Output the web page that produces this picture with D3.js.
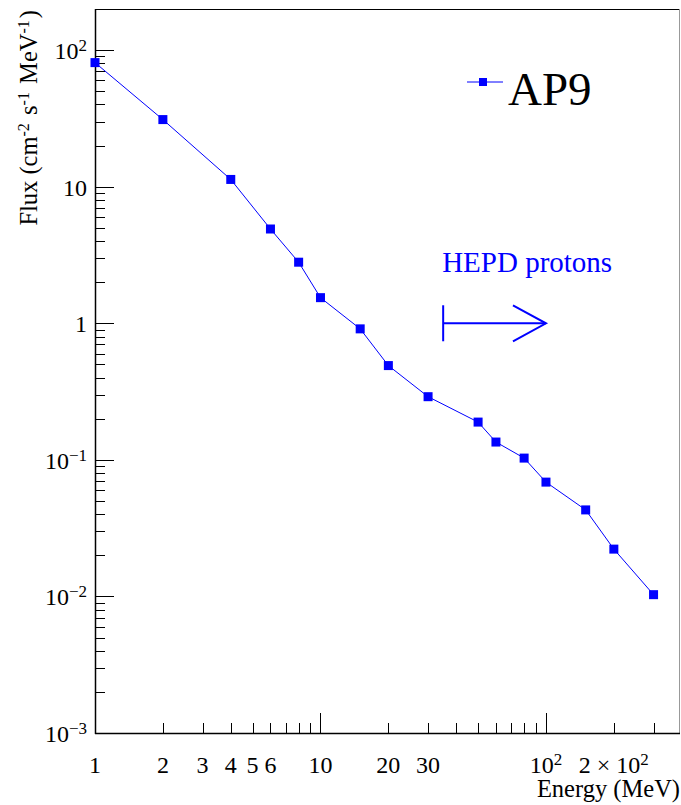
<!DOCTYPE html>
<html>
<head>
<meta charset="utf-8">
<script src="https://cdn.jsdelivr.net/npm/d3@7"></script>
<style>
  body { margin: 0; background: #fff; }
</style>
</head>
<body>
<div id="chart"></div>
<script>
// AP9 proton flux
var energy = [1, 2, 4, 6, 8, 10, 15, 20, 30, 50, 60, 80, 100, 150, 200, 300];
var flux = [81, 31, 11.3, 4.9, 2.8, 1.54, 0.91, 0.49, 0.29, 0.189, 0.135, 0.103, 0.0687, 0.043, 0.0222, 0.0103];

var xTickLabels = [[1, "1"], [2, "2"], [3, "3"], [4, "4"], [5, "5"], [6, "6"], [10, "10"],
                   [20, "20"], [30, "30"], [100, "10^2"], [200, "2 \u00d7 10^2"]];
var yDecades = [-3, -2, -1, 0, 1, 2];

var hepdStart = 35, hepdEnd = 100, hepdFlux = 1;

var width = 681, height = 805;
var margin = { top: 9, left: 95, right: 1, bottom: 72 };
var serif = "'Liberation Serif', 'Times New Roman', Times, 'DejaVu Serif', serif";

var svg = d3.select("#chart").append("svg")
            .attr("width", width)
            .attr("height", height)
            .attr("font-family", serif)
            .style("font-family", serif);

var x = d3.scaleLog()
          .domain([1, 393])
          .range([margin.left, width - margin.right]);

var y = d3.scaleLog()
          .domain([1e-3, 200])
          .range([height - margin.bottom, margin.top]);

var x0 = margin.left, x1 = width - margin.right,
    y0 = height - margin.bottom, y1 = margin.top;

// frame
svg.append("line").attr("x1", x0).attr("x2", x1).attr("y1", y1 + 0.5).attr("y2", y1 + 0.5)
   .attr("stroke", "#000");
svg.append("line").attr("x1", x1 - 0.5).attr("x2", x1 - 0.5).attr("y1", y1).attr("y2", y0)
   .attr("stroke", "#999");
svg.append("line").attr("x1", x0 + 0.5).attr("x2", x0 + 0.5).attr("y1", y1).attr("y2", y0 + 1)
   .attr("stroke", "#000").attr("stroke-width", 1.5);
svg.append("line").attr("x1", x0).attr("x2", x1).attr("y1", y0 + 0.5).attr("y2", y0 + 0.5)
   .attr("stroke", "#000").attr("stroke-width", 1.5);

// x ticks (pointing up into the frame)
var xMinor = [];
[1, 10, 100].forEach(d => {
  for (var k = 1; k <= 9; k++) {
    var v = d * k;
    if (v > 1 && v <= x.domain()[1]) xMinor.push(v);
  }
});
svg.append("g").selectAll("line")
   .data(xMinor)
   .enter().append("line")
   .attr("x1", d => Math.round(x(d)) + 0.5).attr("x2", d => Math.round(x(d)) + 0.5)
   .attr("y1", y0)
   .attr("y2", d => (d === 10 || d === 100) ? y0 - 20 : y0 - 10)
   .attr("stroke", "#000");

// y ticks (pointing right into the frame)
var yMinor = [];
yDecades.forEach(e => {
  for (var k = 1; k <= 9; k++) {
    var v = k * Math.pow(10, e);
    if (v > y.domain()[0] && v <= y.domain()[1]) yMinor.push(v);
  }
});
svg.append("g").selectAll("line")
   .data(yMinor)
   .enter().append("line")
   .attr("y1", d => Math.round(y(d)) + 0.5).attr("y2", d => Math.round(y(d)) + 0.5)
   .attr("x1", x0)
   .attr("x2", d => Math.abs(Math.log10(d) - Math.round(Math.log10(d))) < 1e-9 ? x0 + 19 : x0 + 10)
   .attr("stroke", "#000");

function powerLabel(sel, base, exp) {
  sel.append("tspan").text(base);
  sel.append("tspan").attr("dy", -8).attr("font-size", 17).text(exp);
}

// x tick labels
xTickLabels.forEach(t => {
  var txt = svg.append("text")
    .attr("x", x(t[0]))
    .attr("y", 773)
    .attr("text-anchor", "middle")
    .attr("font-size", 24);
  var parts = t[1].split("^");
  if (parts.length > 1) powerLabel(txt, parts[0], parts[1]);
  else txt.text(t[1]);
});

// y tick labels
yDecades.forEach(e => {
  var txt = svg.append("text")
    .attr("x", 87)
    .attr("y", y(Math.pow(10, e)) + 9)
    .attr("text-anchor", "end")
    .attr("font-size", 24);
  if (e === 0) txt.text("1");
  else if (e === 1) txt.text("10");
  else powerLabel(txt, "10", e < 0 ? "\u2212" + (-e) : String(e));
});

// axis titles
svg.append("text")
   .attr("x", x1)
   .attr("y", 797)
   .attr("text-anchor", "end")
   .attr("font-size", 24.5)
   .text("Energy (MeV)");

var yt = svg.append("text")
   .attr("transform", "translate(37," + (y1 + 1) + ") rotate(-90)")
   .attr("text-anchor", "end")
   .attr("font-size", 24.5);
[["Flux (cm", "-2"], [" s", "-1"], [" MeV", "-1"]].forEach(p => {
  yt.append("tspan").attr("dy", 0).text(p[0]);
  yt.append("tspan").attr("dy", -8).attr("font-size", 16).text(p[1]);
  yt.append("tspan").attr("dy", 8).text("\u200a");
});
yt.append("tspan").text(")");

// data
var pts = energy.map((e, i) => [e, flux[i]]);
var line = d3.line().x(d => x(d[0])).y(d => y(d[1]));

svg.append("path")
   .datum(pts)
   .attr("d", line)
   .attr("fill", "none")
   .attr("stroke", "#0000ff")
   .attr("stroke-width", 1);

var ms = 9;
svg.append("g").selectAll("rect")
   .data(pts)
   .enter().append("rect")
   .attr("x", d => x(d[0]) - ms / 2)
   .attr("y", d => y(d[1]) - ms / 2)
   .attr("width", ms)
   .attr("height", ms)
   .attr("fill", "#0000ff");

// HEPD annotation
var ay = y(hepdFlux), ax0 = x(hepdStart), ax1 = x(hepdEnd);
var arrow = svg.append("g").attr("stroke", "#0000ff").attr("stroke-width", 2).attr("fill", "none");
arrow.append("line").attr("x1", ax0).attr("x2", ax0).attr("y1", ay - 18).attr("y2", ay + 18);
arrow.append("line").attr("x1", ax0).attr("x2", ax1).attr("y1", ay).attr("y2", ay);
arrow.append("path").attr("d", "M" + (ax1 - 33) + "," + (ay - 18) + "L" + ax1 + "," + ay + "L" + (ax1 - 33) + "," + (ay + 18));

svg.append("text")
   .attr("x", ax0 - 1)
   .attr("y", ay - 51)
   .attr("font-size", 29)
   .attr("fill", "#0000ff")
   .text("HEPD protons");

// legend
var lg = svg.append("g");
lg.append("line").attr("x1", 467).attr("x2", 503).attr("y1", 82).attr("y2", 82)
  .attr("stroke", "#0000ff").attr("stroke-width", 1);
lg.append("rect").attr("x", 479).attr("y", 78).attr("width", 8).attr("height", 8).attr("fill", "#0000ff");
lg.append("text").attr("x", 508).attr("y", 105).attr("font-size", 47).text("AP9");
</script>
</body>
</html>
